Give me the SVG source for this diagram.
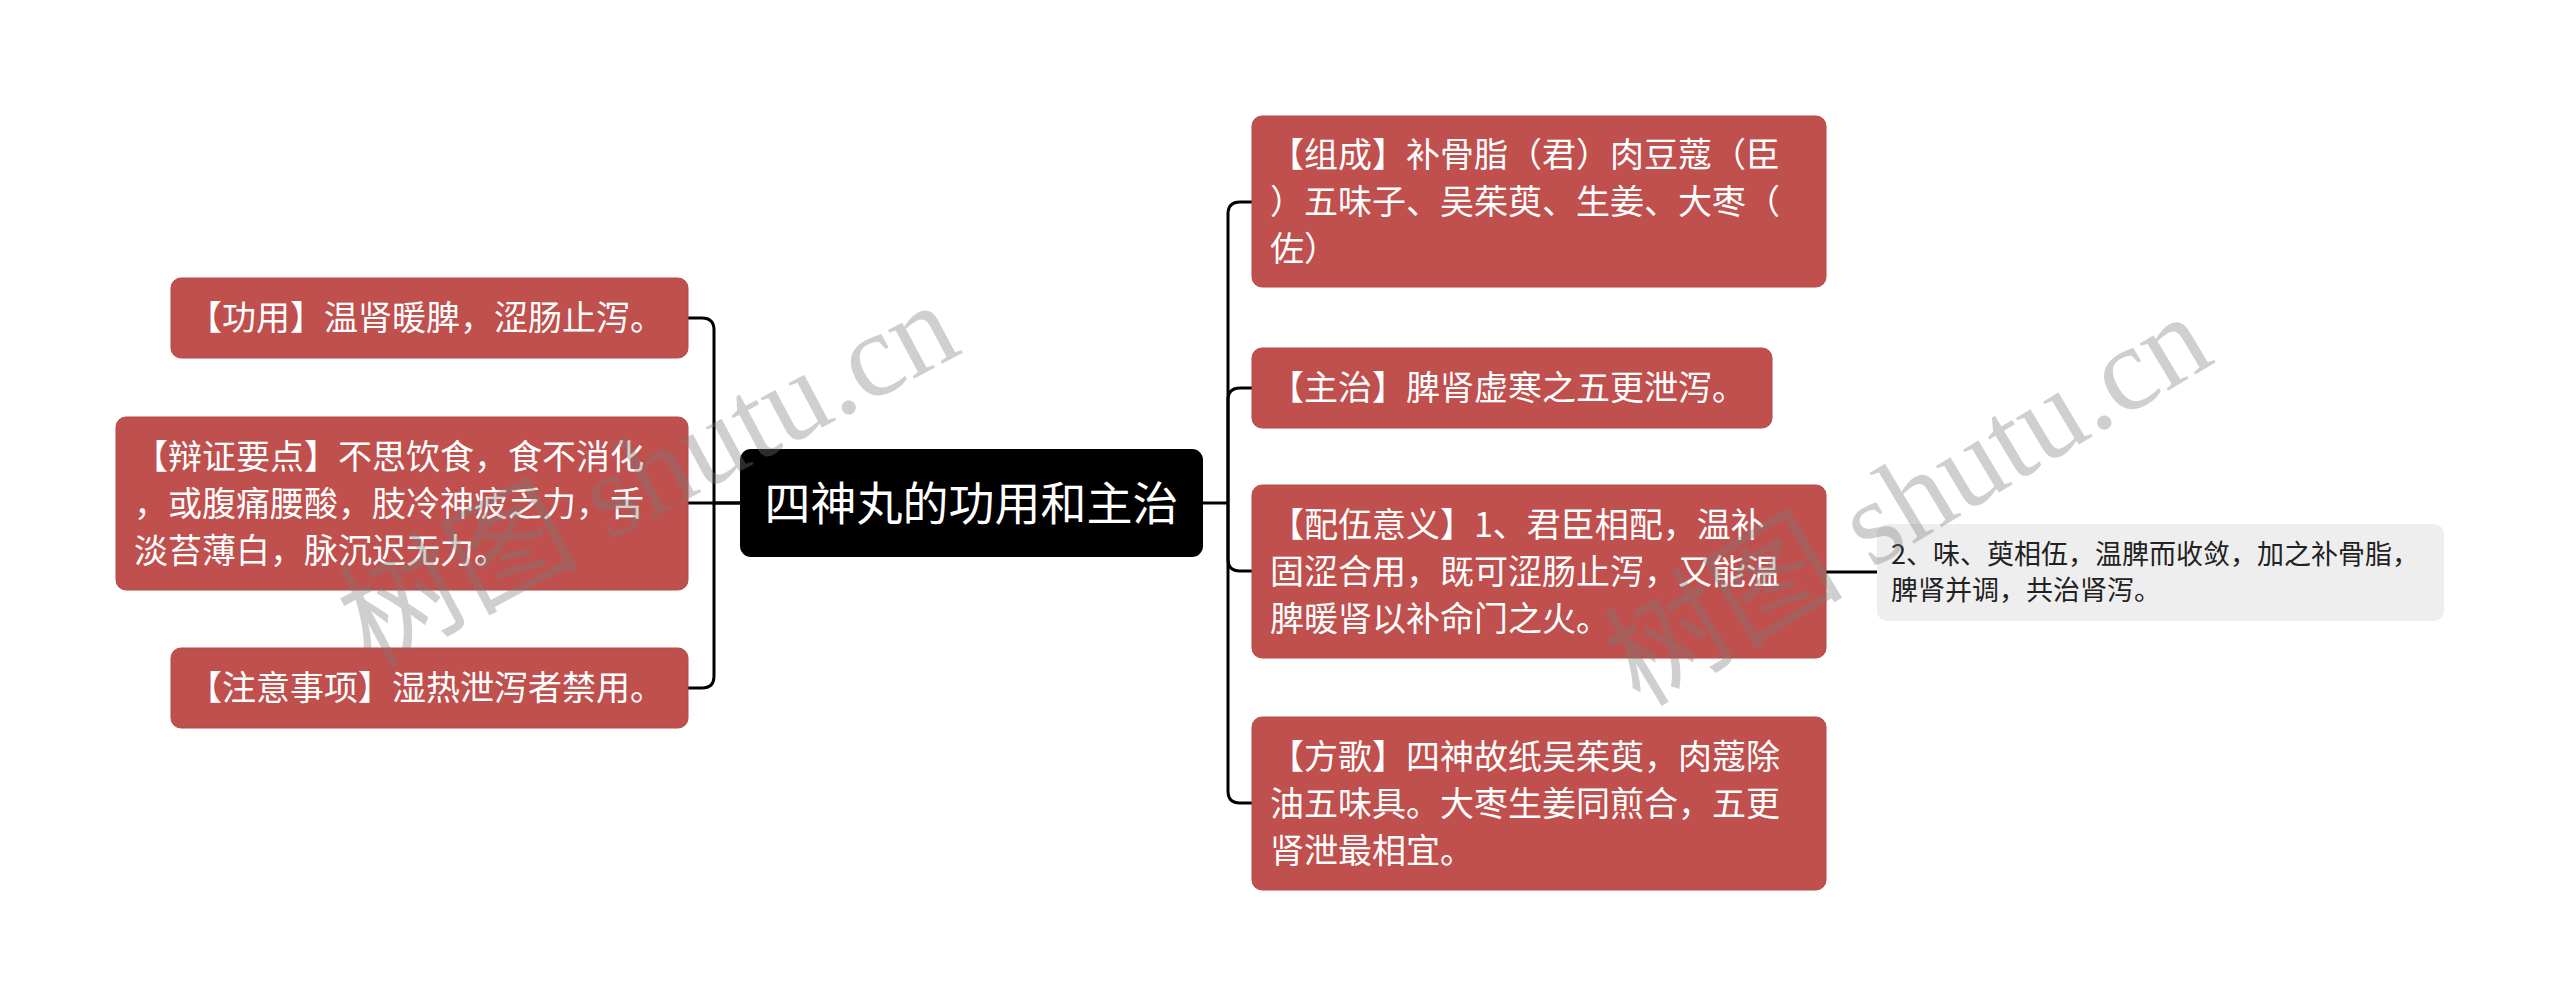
<svg xmlns="http://www.w3.org/2000/svg" width="2560" height="1006" viewBox="0 0 2560 1006">
<style>
.red{fill:#c0504d;stroke:#b54a47;stroke-width:1}
.grey{fill:#eeeeee}
.root{fill:#000000}
.t{font-family:"Noto Sans CJK SC","Noto Sans",sans-serif;font-size:34px;fill:#ffffff}
.tr{font-family:"Noto Sans CJK SC","Noto Sans",sans-serif;font-size:46px;fill:#ffffff}
.tg{font-family:"Noto Sans CJK SC","Noto Sans",sans-serif;font-size:27px;fill:#222222}
.c{fill:none;stroke:#000000;stroke-width:3}
.wm{font-family:"Liberation Serif","Noto Sans CJK SC",serif;font-size:120px;fill:#7a7a7a;fill-opacity:0.36}
</style>
<rect width="2560" height="1006" fill="#ffffff"/>
<g id="connectors">
<path class="c" d="M740,503 H688"/>
<path class="c" d="M740,503 H714 V330 Q714,318 702,318 H688"/>
<path class="c" d="M714,503 V676 Q714,688 702,688 H688"/>
<path class="c" d="M1203,503 H1228"/>
<path class="c" d="M1228,503 V214 Q1228,202 1240,202 H1252"/>
<path class="c" d="M1228,503 V400 Q1228,388 1240,388 H1252"/>
<path class="c" d="M1228,503 V559 Q1228,571 1240,571 H1252"/>
<path class="c" d="M1228,503 V791 Q1228,803 1240,803 H1252"/>
<path class="c" d="M1826,572 H1877"/>
</g>
<g id="root">
<rect class="root" x="740" y="449" width="463" height="108" rx="11"/>
<text class="tr" x="971.5" y="519.5" text-anchor="middle">四神丸的功用和主治</text>
</g>
<g id="gongyong">
<rect class="red" x="171" y="278" width="517" height="80" rx="10"/>
<text class="t" x="188" y="330">【功用】温肾暖脾，涩肠止泻。</text>
</g>
<g id="bianzheng">
<rect class="red" x="116" y="417" width="572" height="173" rx="10"/>
<text class="t" x="134" y="468.5">【辩证要点】不思饮食，食不消化</text>
<text class="t" x="134" y="515.5">，或腹痛腰酸，肢冷神疲乏力，舌</text>
<text class="t" x="134" y="562.5">淡苔薄白，脉沉迟无力。</text>
</g>
<g id="zhuyi">
<rect class="red" x="171" y="648" width="517" height="80" rx="10"/>
<text class="t" x="188" y="700">【注意事项】湿热泄泻者禁用。</text>
</g>
<g id="zucheng">
<rect class="red" x="1252" y="116" width="574" height="171" rx="10"/>
<text class="t" x="1270" y="167">【组成】补骨脂（君）肉豆蔻（臣</text>
<text class="t" x="1270" y="214">）五味子、吴茱萸、生姜、大枣（</text>
<text class="t" x="1270" y="261">佐）</text>
</g>
<g id="zhuzhi">
<rect class="red" x="1252" y="348" width="520" height="80" rx="10"/>
<text class="t" x="1270" y="400">【主治】脾肾虚寒之五更泄泻。</text>
</g>
<g id="peiwu">
<rect class="red" x="1252" y="485" width="574" height="173" rx="10"/>
<text class="t" x="1270" y="536.5">【配伍意义】1、君臣相配，温补</text>
<text class="t" x="1270" y="583.5">固涩合用，既可涩肠止泻，又能温</text>
<text class="t" x="1270" y="630.5">脾暖肾以补命门之火。</text>
</g>
<g id="peiwu2">
<rect class="grey" x="1877" y="524" width="567" height="97" rx="10"/>
<text class="tg" x="1891" y="564">2、味、萸相伍，温脾而收敛，加之补骨脂，</text>
<text class="tg" x="1891" y="600">脾肾并调，共治肾泻。</text>
</g>
<g id="fangge">
<rect class="red" x="1252" y="717" width="574" height="173" rx="10"/>
<text class="t" x="1270" y="768.5">【方歌】四神故纸吴茱萸，肉蔻除</text>
<text class="t" x="1270" y="815.5">油五味具。大枣生姜同煎合，五更</text>
<text class="t" x="1270" y="862.5">肾泄最相宜。</text>
</g>
<g id="watermarks">
<text class="wm" x="370" y="668" transform="rotate(-28 370 668)">树图 shutu.cn</text>
<text class="wm" x="1640" y="708" transform="rotate(-31 1640 708)">树图 shutu.cn</text>
</g>
</svg>
